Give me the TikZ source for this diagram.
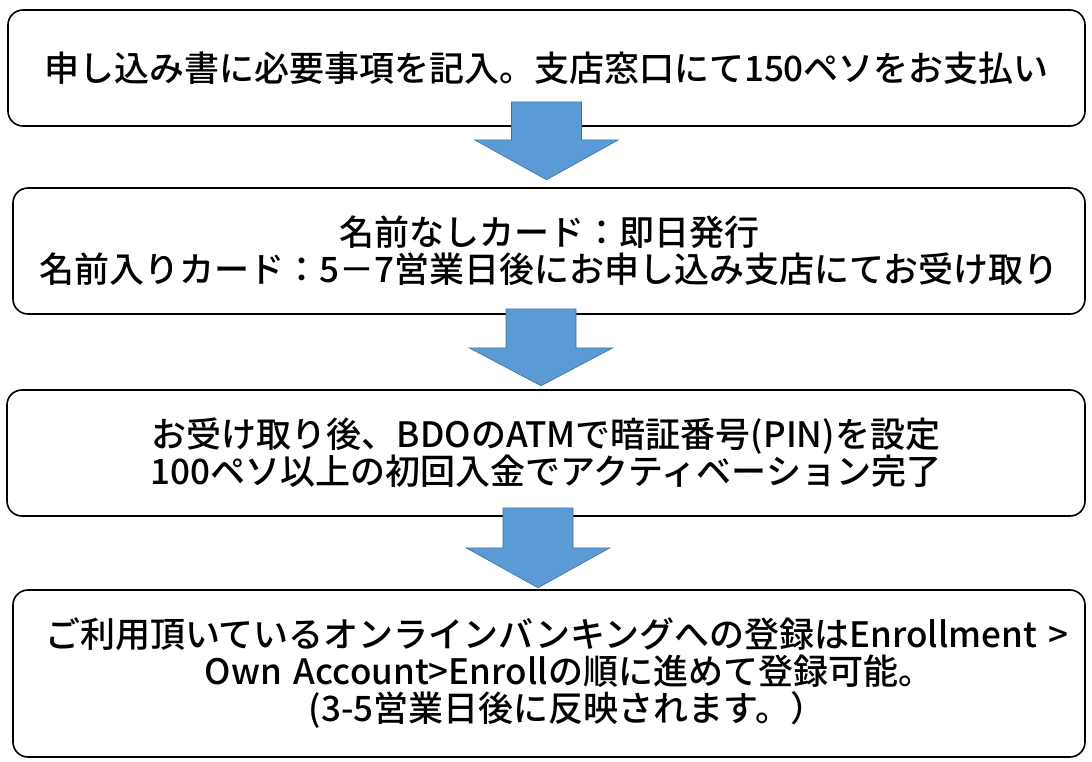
\documentclass[tikz,border=0pt]{standalone}
\usepackage{fontspec}
\usetikzlibrary{calc}
\newfontfamily\jpfont{Noto Sans CJK JP Medium}
\definecolor{arrowblue}{RGB}{91,155,213}
\definecolor{arrowedge}{RGB}{65,113,156}

\begin{document}
\begin{tikzpicture}[x = 1pt, y = 1pt,
        every node/.style={draw, rounded corners=15pt, line width=1.6pt, align=center, inner sep=0pt,
                           font=\jpfont\fontsize{35}{37}\selectfont},
        flowarrow/.style={fill=arrowblue, draw=arrowedge, line width=0.6pt}
]
    \useasboundingbox (0,0) rectangle (1092,-761);
    \node[minimum width=1077, minimum height=116] (apply) at (546.5,-68) {申し込み書に必要事項を記入。支店窓口にて150ペソをお支払い};
    \node[minimum width=1072, minimum height=126] (card) at (549,-251) {名前なしカード：即日発行\\名前入りカード：5－7営業日後にお申し込み支店にてお受け取り};
    \node[minimum width=1078, minimum height=126] (pin) at (546,-453) {お受け取り後、BDOのATMで暗証番号(PIN)を設定\\100ペソ以上の初回入金でアクティベーション完了};
    \node[minimum width=1072, minimum height=167, text width=1030] (online) at (549,-673.5) {\makebox[\linewidth][l]{\hspace*{11pt}ご利用頂いているオンラインバンキングへの登録はEnrollment >}\\\hspace*{40pt}Own Account>Enrollの順に進めて登録可能。\\\hspace*{36pt}(3-5営業日後に反映されます。）};

    % block arrows
    \draw[flowarrow] ($(apply.south)+(-35,25)$) -- ++(0,-38) -- ++(-37,0) -- ++(72,-40) -- ++(72,40) -- ++(-37,0) -- ++(0,38) -- cycle;
    \draw[flowarrow] ($(card.south)+(-43,6)$) -- ++(0,-39) -- ++(-37,0) -- ++(72,-38) -- ++(72,38) -- ++(-37,0) -- ++(0,39) -- cycle;
    \draw[flowarrow] ($(pin.south)+(-43,9)$) -- ++(0,-40) -- ++(-37,0) -- ++(72,-40) -- ++(72,40) -- ++(-37,0) -- ++(0,40) -- cycle;

\end{tikzpicture}
\end{document}
